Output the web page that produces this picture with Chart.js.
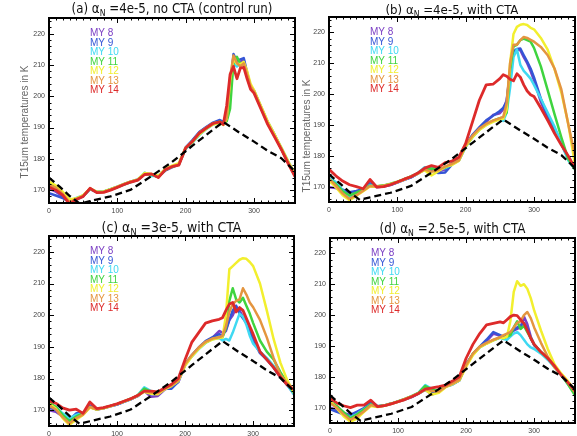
<!DOCTYPE html>
<html lang="en">
<head>
<meta charset="UTF-8">
<title>T15um temperatures, MY 8-14</title>
<script src="https://cdn.jsdelivr.net/npm/chart.js"></script>
<style>
  body { margin: 0; background: #fff; }
  #wrap { position: relative; width: 577px; height: 436px; overflow: hidden; background: #fff; }
  #wrap canvas { position: absolute; }
</style>
</head>
<body>
<div id="wrap"></div>

<script>
// solar longitude (deg) shared by all series
var ls = [0, 10, 20, 30, 40, 50, 60, 70, 80, 90, 100, 110, 120, 130, 140, 150, 160, 170, 180, 190,
          200, 210, 220, 230, 240, 250, 255, 260, 265, 270, 275, 280, 285, 290, 295, 300, 310, 320, 330, 340, 350, 360];
var xTicks = [0, 100, 200, 300];
var yTicks = [170, 180, 190, 200, 210, 220];
var years = ['MY 8', 'MY 9', 'MY 10', 'MY 11', 'MY 12', 'MY 13', 'MY 14'];
var yearColors = ['#7b3fc4', '#3555d6', '#3fd9f2', '#3fd43f', '#f2ef2e', '#e4953f', '#dd2a2a'];

// black dashed reference curve
var refLs = [0, 15, 30, 45, 60, 90, 120, 150, 180, 210, 240, 255, 280, 300, 320, 340, 360];
var refT  = [174, 171.2, 168.2, 165.7, 166.5, 168, 170.2, 174.5, 179, 184.2, 189.3, 191.8, 188.2, 185.5, 182.6, 180.2, 176];

// (a) control run
var aMY8  = [170.5,169.5,168,166,167,168,170.3,169.3,169.5,170.2, 171,171.9,172.7,173.3,175.2,175,174.3,176.2,177.3,178.2,
             183.3,185.8,188.5,190,191.4,192.2,191.6,192.5,203,212.8, 211.5,211,211.5,207,203,201.5,196.5,191.5,187.5,183.2, 178.8,174.6];
var aMY9  = [169,168.3,167.5,166.2,167.2,168.2,170.4,169.4,169.5,170.3, 171.1,172,172.8,173.4,175.3,174.8,174.3,176.4,177.6,178.3,
             183.7,186,188.6,190.2,191.6,192.4,191.8,192.6,201,213.5, 211,211.8,212.2,207.5,203.2,201.8,196.8,191.8,187.8,183.4, 179,174.8];
var aMY10 = [172,171,169,166.5,167.5,168.3,170.4,169.5,169.6,170.2, 171,171.8,172.6,173.4,175.6,174.5,174.6,176.6,177.4,178.4,
             183.2,185.2,187.6,189.5,191,191.6,191.2,192.2,204,210.5, 209.5,210.5,210,206.5,202.8,201.5,196.6,191.8,187.6,183.6, 179.2,175];
var aMY11 = [172.5,171.2,169.2,166.8,167.3,168.2,170.5,169.4,169.5,170.2, 171,171.9,172.7,173.3,175.3,175,174.2,176.4,177.5,178.2,
             183.4,185.5,188,189.6,191.2,191.9,191.3,192,196,211, 212.6,210.3,210.2,206.8,203,201.6,196.5,191.5,187.4,183.2, 178.8,174.6];
var aMY12 = [172.8,171.5,169.5,167,167.4,168.4,170.5,169.5,169.6,170.3, 171.1,172,172.8,173.4,175.5,175.2,174.6,176.8,177.8,178.6,
             183.6,185.4,187.8,189.6,191,191.5,190.8,192.8,205,212, 210.4,210.2,211,208,204,202,197,192,187.8,183.6, 179.2,175.2];
var aMY13 = [171.8,170.8,168.8,166.2,167.2,168.2,170.6,169.3,169.4,170.1, 171,171.9,172.7,173.3,175.1,175.1,174.2,176.6,177.6,178.2,
             183.5,185.6,188.3,189.9,191.4,191.8,191,193,206,213, 210.6,209.6,210.5,207,203.2,201.5,196.4,191.4,187.3,183.2, 178.8,174.5];
var aMY14 = [171,170,168.4,165.6,167,168,170.6,169.2,169.3,170, 170.9,171.8,172.6,173.2,175,175.2,174,176.5,177.5,178,
             183.5,185.6,188.2,189.8,191.3,191.8,191,197,207,209.5, 205.6,209,209.2,205.5,202.2,201,196,191,187,183, 178.5,174.3];

// (b) 4e-5 with CTA
var bMY8  = [169.8,169.5,168.5,167.8,168.2,169,172,169.8,170,170.5, 171.3,172.2,173,174.2,175.8,176.3,175,175.5,177.8,178.5,
             183,186.4,189,191,193.2,193.8,195,198,207.5,213.5, 214.5,214.2,212,210,207.5,204.5,197.5,192.5,188.5,183.8, 179,176];
var bMY9  = [171.8,170.5,169,168.2,168.6,169.2,171,170,170.2,170.6, 171.4,172.2,173,174.2,175.6,175.5,174.4,174.6,177.2,178.8,
             183.4,186.8,189.2,191.5,193,194.5,195.5,197.5,207,213.8, 214.6,214.8,212.6,210.5,208.3,205.4,198.5,193,189,184, 179.2,176.2];
var bMY10 = [173,171.5,168.8,166.5,167.5,168.8,170.5,170,170.3,170.8, 171.5,172.3,173.3,174.4,176.3,176,175.4,176,177.2,178.4,
             182.8,186,188.4,190,191.2,192,191.3,194,202,212, 214.5,209.5,207.5,206.3,205,203,198.5,194,189.5,184, 178.5,175.5];
var bMY11 = [172.4,170.8,168.5,167.2,168,169,170.3,170.1,170.4,170.9, 171.6,172.4,173.3,174.3,175.8,175.9,175.6,176.2,177.3,178.6,
             183.2,186.2,188.6,190.2,191.4,192.2,192.4,194,208,215.5, 216,217.5,218,217.5,217,215,209,201.3,193.5,186, 179,175.5];
var bMY12 = [172,169.8,167.2,165.6,167,168.5,170,170,170.3,170.8, 171.5,172.3,173.2,174.2,175.3,173.6,175,176.4,177,178.3,
             183,186,188.4,189.9,191,191.8,192,195,210,219.5, 221.8,222.5,222.7,222.4,221.5,221,218.2,214.4,208.2,200.5, 190.5,177];
var bMY13 = [172.6,170.3,167.8,166,167.2,168.7,170.2,170,170.3,170.8, 171.5,172.3,173.3,174.3,175.5,174.8,175.4,176.5,177.4,178.5,
             183.4,186.5,188.8,190.3,191.4,192.2,192.6,197,210,216, 216,217.5,218.5,218.2,217.6,217,215.3,212.6,208.3,201.5, 190.4,180];
var bMY14 = [175.6,173.5,171.8,170.6,170,169.3,172.3,169.8,170,170.6, 171.5,172.4,173.2,174.4,176,176.8,176.2,177.8,178.3,179.5,
             184,191,198,203,203.2,205,206.3,205.8,204.8,204.3, 206.6,205.5,203,201,199.8,199.2,195.5,191.5,187.3,183.5, 180,176];

// (c) 3e-5 with CTA
var cMY8  = [170,169.5,168,167,168.5,168.8,171.5,170.2,170.6,171.2, 171.8,172.6,173.4,174.4,176,174.2,174.5,176.5,177.5,178.8,
             184.4,187.2,189.6,191.5,192.8,195,194.5,195,198.5,200, 202.5,201.5,199.5,197.5,195,192.5,188.5,186,183.5,180.5, 178,175.5];
var cMY9  = [171,170,168.5,167,169,169,171.2,170.2,170.6,171.2, 171.8,172.6,173.4,174.4,176.2,175,175.2,176.8,176.8,179,
             184.6,187.4,189.8,191.8,193,194,193.5,195.5,198.5,201.5, 203,200.5,199,197.5,195,192,188,186,183.5,180.5, 178,175];
var cMY10 = [172,171,169,167.5,168.5,169.2,171,170.3,170.7,171.3, 171.9,172.7,173.6,174.6,177.2,176,175.5,177,177.8,179.2,
             184.2,187,189.3,191.2,192.4,192.8,192,192.5,192,194.5, 197.5,200.5,199.5,197,193.5,191,188.5,186.5,184,181, 178,175];
var cMY11 = [172.5,171,168.5,166.5,168,169,171,170.3,170.7,171.3, 172,172.8,173.6,174.6,176.8,175.8,175.6,177,178,179.4,
             184.5,187.2,189.6,191.4,192.5,193,193,196,204.5,208.5, 205,204,205.5,203,200.5,197.5,192,188.5,186,182, 178.5,175.5];
var cMY12 = [172,170.5,167.5,165.4,167,168.5,170.8,170.2,170.6,171.2, 171.9,172.7,173.5,174.5,175.8,175.2,175,176.6,177.6,179.2,
             184,187,189.4,191.3,192.3,192.8,193,200,214.5,215.5, 216.5,217.5,218,217.8,216.8,215.5,210,201.5,192.5,185, 179.5,175.5];
var cMY13 = [171.5,170.2,167.8,165.8,167.5,168.6,171,170.3,170.7,171.3, 172,172.8,173.6,174.6,176,175.6,175.4,176.8,177.8,179.4,
             184.6,187.4,189.8,191.6,192.6,193,193.5,196.5,201,203.5, 204.5,205,208.5,206.5,204,202.5,198.5,193,186.5,181.2, 178.5,176.5];
var cMY14 = [173,172.2,170.7,170,170.3,169,172.6,170.5,170.8,171.4, 172,172.8,173.6,174.6,176,176,175.8,177,178.2,180,
             186,191.5,194.5,197.5,198.2,198.7,199.2,201.5,203.5,204, 201,202.4,201.5,199,196.5,194,188.5,186,183.5,180.5, 178,176.5];

// (d) 2.5e-5 with CTA
var dMY8  = [170,169.3,168.3,167.5,168.5,169.5,171.8,170.3,170.6,171.2, 171.9,172.6,173.4,174.5,175.8,174.2,175.5,176.8,177.5,178.8,
             184,187.3,189.6,191.5,194,193.3,192.8,193.5,194,195, 195.5,196,199.5,197,193,190.5,188,186,183.5,180.5, 178,175];
var dMY9  = [169.5,168.6,167.8,167.6,168.7,169.8,172,170.4,170.7,171.3, 172,172.7,173.5,174.5,175.8,175,175.2,176.8,177.6,178.8,
             184,187.4,189.8,192,194.5,193.5,193,193.5,194.3,195.2, 196,196.5,197.5,195.5,192.5,190.2,188,186,183.5,180.5, 177.8,175];
var dMY10 = [171.5,170,168.2,166.8,168,169.5,171,170.4,170.7,171.3, 172,172.8,173.7,174.8,177.3,176,175.2,176.8,177.5,178.8,
             183.6,187.2,189.5,190.8,191.8,192.6,192.2,192,193,194, 194.5,193.5,192,190.5,189.5,189,187.5,185.5,183,180.5, 177.5,174.5];
var dMY11 = [172,170.5,168.5,166.5,167.8,169.4,171,170.4,170.7,171.3, 172,172.8,173.7,174.8,177,175.8,175.6,177,177.8,179,
             183.6,187.4,189.7,190.8,191.9,192.8,192.5,193,193.5,196, 198,195.5,196.5,194.5,192.5,190.5,188,186,183.5,180.5, 177.5,174];
var dMY12 = [172,169.8,167.2,165.4,166.5,168.6,170.5,170.2,170.6,171.2, 171.9,172.7,173.6,174.6,175.8,174.2,174.8,176.6,177.6,178.8,
             183.2,187,189.5,190.7,191.8,192.7,192.5,193,198,207.5, 211,209.5,210,208.5,205.5,201.5,195,189,184,181, 178.5,175.5];
var dMY13 = [171.5,170,167.8,166,167.2,168.8,170.8,170.3,170.7,171.3, 172,172.8,173.6,174.6,176,175.4,175.2,176.8,177.8,179,
             183.8,187.5,189.8,191,192,192.8,193.5,194,194.5,196, 197.5,198,200,201,199,196,191,186.5,183,180.5, 178,175];
var dMY14 = [173,171.5,170.6,170,170.8,170.8,172.4,170.3,170.6,171.2, 171.9,172.6,173.5,174.6,176,176.4,176.8,177.3,178.6,180,
             186,190.5,194,196.8,197.3,197.8,197.5,198.5,199.5,200, 199.8,198.5,197.3,195,192.5,190.5,188,186,183.5,180.5, 178,175.5];

var panels = [
  { series: [aMY8, aMY9, aMY10, aMY11, aMY12, aMY13, aMY14], pre: '(a) \u03b1', post: ' =4e-5, no CTA (control run)',
    box: [49, 18, 295, 203], yMin: 165.9, titleY: 10, titleW: 201, yLabel: [25, 122] },
  { series: [bMY8, bMY9, bMY10, bMY11, bMY12, bMY13, bMY14], pre: '(b) \u03b1', post: ' =4e-5, with CTA',
    box: [329, 17, 575, 202], yMin: 165, titleY: 11, titleW: 133, yLabel: [307.7, 136] },
  { series: [cMY8, cMY9, cMY10, cMY11, cMY12, cMY13, cMY14], pre: '(c) \u03b1', post: ' =3e-5, with CTA',
    box: [49, 236, 294, 426], yMin: 165, titleY: 228, titleW: 140, yLabel: null },
  { series: [dMY8, dMY9, dMY10, dMY11, dMY12, dMY13, dMY14], pre: '(d) \u03b1', post: ' =2.5e-5, with CTA',
    box: [330, 238, 575, 423], yMin: 165, titleY: 230, titleW: 146, yLabel: null }
];

var PADL = 44, PADT = 18, PADB = 16, PADR = 3;
var tickFont = { family: "'Liberation Sans', Arial, sans-serif", size: 7 };
var titleFam = "'Liberation Sans Narrow', 'DejaVu Sans Condensed', 'Liberation Sans', sans-serif";

function drawTitle(ctx, cx, cy, pre, post, targetW) {
  var base = 14;
  ctx.font = base + 'px ' + titleFam;
  var w1 = ctx.measureText(pre).width, w3 = ctx.measureText(post).width;
  ctx.font = (base * 0.65) + 'px ' + titleFam;
  var w2 = ctx.measureText('N').width;
  var k = Math.min(1, targetW / (w1 + w2 + w3));
  var s = base * k;
  var x = cx - (w1 + w2 + w3) * k / 2;
  ctx.fillStyle = '#111';
  ctx.textBaseline = 'middle';
  ctx.textAlign = 'left';
  ctx.font = s + 'px ' + titleFam;
  ctx.fillText(pre, x, cy);
  x += w1 * k;
  ctx.font = (s * 0.65) + 'px ' + titleFam;
  ctx.fillText('N', x, cy + s * 0.3);
  x += w2 * k;
  ctx.font = s + 'px ' + titleFam;
  ctx.fillText(post, x, cy);
}

var frame = {
  id: 'frame',
  afterDatasetsDraw: function (chart) {
    var ctx = chart.ctx, a = chart.chartArea;
    var xs = chart.scales.x, ys = chart.scales.y;
    ctx.save();
    ctx.strokeStyle = '#000';
    ctx.lineWidth = 1;
    ctx.beginPath();
    for (var v = 0; v <= 360; v += 10) {
      var len = (v % 100 === 0) ? 5 : 2.5;
      var px = Math.round(xs.getPixelForValue(v)) + 0.5;
      ctx.moveTo(px, a.bottom); ctx.lineTo(px, a.bottom - len);
      ctx.moveTo(px, a.top); ctx.lineTo(px, a.top + len);
    }
    for (var t = Math.ceil(ys.min / 2) * 2; t <= ys.max; t += 2) {
      var l2 = (t % 10 === 0) ? 5 : 2.5;
      var py = Math.round(ys.getPixelForValue(t)) + 0.5;
      ctx.moveTo(a.left, py); ctx.lineTo(a.left + l2, py);
      ctx.moveTo(a.right, py); ctx.lineTo(a.right - l2, py);
    }
    ctx.stroke();
    ctx.lineWidth = 2;
    ctx.strokeRect(a.left, a.top, a.right - a.left, a.bottom - a.top);
    ctx.restore();
  },
  afterDraw: function (chart) {
    var p = chart.options.plugins.frame.panel;
    var ctx = chart.ctx, a = chart.chartArea;
    ctx.save();
    drawTitle(ctx, (a.left + a.right) / 2, p.titleY - (p.box[1] - PADT), p.pre, p.post, p.titleW);

    // year labels
    ctx.font = "10px 'Liberation Sans', Arial, sans-serif";
    ctx.textAlign = 'left';
    ctx.textBaseline = 'middle';
    years.forEach(function (y, i) {
      ctx.fillStyle = yearColors[i];
      ctx.fillText(y, a.left + 41, a.top + 15.5 + i * 9.5);
    });

    if (p.yLabel) {
      ctx.translate(p.yLabel[0] - (p.box[0] - PADL), p.yLabel[1] - (p.box[1] - PADT));
      ctx.rotate(-Math.PI / 2);
      ctx.fillStyle = '#666';
      ctx.textAlign = 'center';
      ctx.font = "10px 'Liberation Sans', Arial, sans-serif";
      ctx.fillText('T15um temperatures in K', 0, 0);
    }
    ctx.restore();
  }
};

var wrap = document.getElementById('wrap');
panels.forEach(function (p) {
  var cv = document.createElement('canvas');
  var w = p.box[2] - p.box[0] + PADL + PADR;
  var h = p.box[3] - p.box[1] + PADT + PADB;
  cv.width = w; cv.height = h;
  cv.style.left = (p.box[0] - PADL) + 'px';
  cv.style.top = (p.box[1] - PADT) + 'px';
  wrap.appendChild(cv);

  var datasets = [{
    data: refLs.map(function (x, i) { return { x: x, y: refT[i] }; }),
    borderColor: '#000', borderWidth: 2.3, borderDash: [7, 4], order: 0
  }];
  p.series.forEach(function (s, k) {
    datasets.push({
      label: years[k],
      data: ls.map(function (x, i) { return { x: x, y: s[i] }; }),
      borderColor: yearColors[k],
      borderWidth: k === 6 ? 2.8 : 2.5,
      order: 7 - k
    });
  });

  new Chart(cv, {
    type: 'line',
    data: { datasets: datasets },
    options: {
      responsive: false,
      animation: false,
      devicePixelRatio: 1,
      layout: { padding: { top: PADT, right: PADR, left: 0, bottom: 0 } },
      elements: { point: { radius: 0 }, line: { tension: 0, borderJoinStyle: 'round' } },
      plugins: { legend: { display: false }, tooltip: { enabled: false }, frame: { panel: p } },
      scales: {
        x: {
          type: 'linear', min: 0, max: 360,
          grid: { display: false, drawTicks: false }, border: { display: false },
          ticks: { font: tickFont, color: '#444', padding: 4, maxRotation: 0 },
          afterBuildTicks: function (s) { s.ticks = xTicks.map(function (v) { return { value: v }; }); },
          afterFit: function (s) { s.height = PADB; }
        },
        y: {
          type: 'linear', min: p.yMin, max: 225,
          grid: { display: false, drawTicks: false }, border: { display: false },
          ticks: { font: tickFont, color: '#444', padding: 4 },
          afterBuildTicks: function (s) { s.ticks = yTicks.map(function (v) { return { value: v }; }); },
          afterFit: function (s) { s.width = PADL; }
        }
      }
    },
    plugins: [frame]
  });
});
</script>
</body>
</html>
